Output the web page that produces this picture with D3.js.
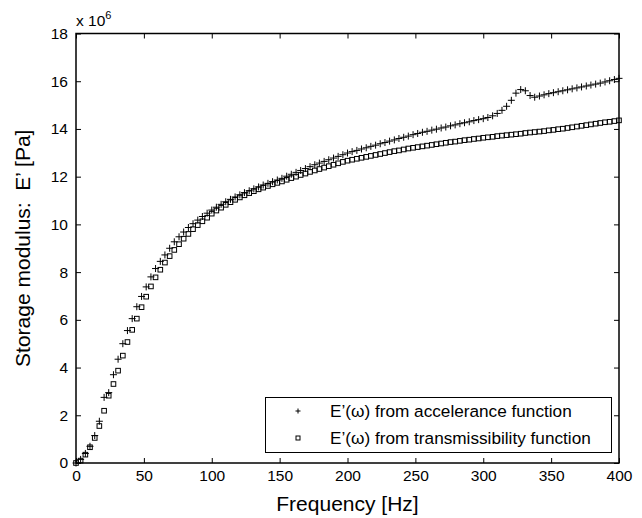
<!DOCTYPE html>
<html><head><meta charset="utf-8">
<script src="https://cdn.jsdelivr.net/npm/d3@7"></script>
<style>body{margin:0;background:#fff}svg{display:block}text{font-family:"Liberation Sans",Arial,Helvetica,sans-serif;fill:#000;white-space:pre}</style>
</head><body><svg id="c" width="642" height="518"></svg>
<script>
const freq = [0,3.4,6.9,10.3,13.8,17.2,20.7,24.1,27.6,31.0,34.5,37.9,41.4,44.8,48.3,51.7,55.2,58.6,62.1,65.5,69.0,72.4,75.9,79.3,82.8,86.2,89.7,93.1,96.6,
100.0,103.4,106.9,110.3,113.8,117.2,120.7,124.1,127.6,131.0,134.5,137.9,141.4,144.8,148.3,151.7,155.2,158.6,162.1,165.5,169.0,172.4,175.9,179.3,182.8,186.2,189.7,193.1,196.6,
200.0,203.4,206.9,210.3,213.8,217.2,220.7,224.1,227.6,231.0,234.5,237.9,241.4,244.8,248.3,251.7,255.2,258.6,262.1,265.5,269.0,272.4,275.9,279.3,282.8,286.2,289.7,293.1,296.6,
300.0,303.4,306.9,310.3,313.8,317.2,320.7,324.1,327.6,331.0,334.5,337.9,341.4,344.8,348.3,351.7,355.2,358.6,362.1,365.5,369.0,372.4,375.9,379.3,382.8,386.2,389.7,393.1,396.6,400.0];
// Storage modulus, units of 1e6 Pa
const accelerance = [0,0.15,0.4,0.7,1.15,1.75,2.75,2.95,3.7,4.35,5.0,5.55,6.05,6.55,6.98,7.38,7.8,8.15,8.45,8.72,9.0,9.27,9.48,9.68,9.87,10.03,10.18,10.33,10.47,
10.6,10.72,10.84,10.95,11.05,11.15,11.24,11.33,11.41,11.49,11.57,11.65,11.72,11.79,11.86,11.93,12.02,12.1,12.18,12.26,12.34,12.42,12.5,12.57,12.64,12.71,12.78,12.85,12.92,
12.99,13.05,13.1,13.16,13.21,13.27,13.32,13.38,13.43,13.49,13.54,13.6,13.65,13.7,13.76,13.81,13.86,13.9,13.95,13.99,14.04,14.08,14.13,14.17,14.22,14.26,14.3,14.35,14.39,
14.43,14.48,14.55,14.65,14.78,14.95,15.2,15.5,15.65,15.6,15.4,15.33,15.38,15.43,15.48,15.52,15.56,15.6,15.64,15.68,15.72,15.76,15.8,15.84,15.88,15.92,15.97,16.02,16.07,16.12];
const transmissibility = [0,0.1,0.35,0.66,1.05,1.55,2.19,2.82,3.31,3.87,4.5,5.07,5.58,6.05,6.53,6.97,7.4,7.78,8.1,8.4,8.67,8.93,9.17,9.4,9.6,9.8,9.97,10.13,10.28,
10.45,10.58,10.7,10.82,10.93,11.03,11.13,11.22,11.31,11.39,11.47,11.54,11.61,11.68,11.74,11.8,11.87,11.94,12.0,12.07,12.13,12.2,12.26,12.32,12.38,12.44,12.5,12.56,12.62,
12.67,12.71,12.75,12.79,12.83,12.87,12.91,12.95,12.99,13.03,13.07,13.1,13.14,13.18,13.21,13.24,13.27,13.3,13.33,13.36,13.39,13.42,13.45,13.47,13.5,13.53,13.55,13.58,13.6,
13.63,13.65,13.67,13.7,13.72,13.74,13.76,13.78,13.8,13.83,13.85,13.87,13.89,13.91,13.94,13.96,13.99,14.01,14.04,14.07,14.1,14.13,14.16,14.19,14.22,14.25,14.28,14.3,14.33,14.36];
const xTicks = [0,50,100,150,200,250,300,350,400];
const yTicks = [0,2,4,6,8,10,12,14,16,18];
const legendLabels = ["E\u2019(\u03c9) from accelerance function","E\u2019(\u03c9) from transmissibility function"];

const svg = d3.select("#c");
const L=76, R=619, T=33.5, B=463;
const x = d3.scaleLinear().domain([0,400]).range([L,R]);
const y = d3.scaleLinear().domain([0,18]).range([B,T]);
const tl=5;

// axes
svg.append("g").attr("transform",`translate(0,${B})`)
  .call(d3.axisBottom(x).tickValues(xTicks).tickSize(-tl).tickPadding(tl+2).tickSizeOuter(0));
svg.append("g").attr("transform",`translate(${L},0)`)
  .call(d3.axisLeft(y).tickValues(yTicks).tickSize(-tl).tickPadding(tl+3).tickSizeOuter(0));
svg.append("g").attr("transform",`translate(0,${T})`)
  .call(d3.axisTop(x).tickValues(xTicks).tickSize(-tl).tickFormat("").tickSizeOuter(0));
svg.append("g").attr("transform",`translate(${R},0)`)
  .call(d3.axisRight(y).tickValues(yTicks).tickSize(-tl).tickFormat("").tickSizeOuter(0));
svg.selectAll(".domain").remove();
svg.selectAll(".tick line").attr("stroke","#000").attr("stroke-width",1);
svg.selectAll(".tick text").attr("font-size",15.5).attr("font-family",'"Liberation Sans",Arial,sans-serif').attr("fill","#000");
svg.append("rect").attr("x",L).attr("y",T).attr("width",R-L).attr("height",B-T)
  .attr("fill","none").attr("stroke","#000").attr("stroke-width",1.5);

// exponent
const ex = svg.append("text").attr("x",L).attr("y",26).attr("font-size",15.5);
ex.append("tspan").text("x 10");
ex.append("tspan").attr("dy",-7).attr("font-size",11).text("6");

// labels
svg.append("text").attr("x",(L+R)/2).attr("y",511).attr("text-anchor","middle").attr("font-size",21).text("Frequency [Hz]");
svg.append("text").attr("transform",`translate(30,${(T+B)/2}) rotate(-90)`).attr("text-anchor","middle").attr("font-size",21).text("Storage modulus:  E\u2019 [Pa]");

const plus = (g,cx,cy,s)=>g.append("path").attr("d",`M${cx-s},${cy}H${cx+s}M${cx},${cy-s}V${cy+s}`).attr("stroke","#000").attr("stroke-width",1).attr("fill","none");
const sq = (g,cx,cy,s)=>g.append("rect").attr("x",cx-s).attr("y",cy-s).attr("width",2*s).attr("height",2*s).attr("stroke","#000").attr("stroke-width",1).attr("fill","none");

const data = freq.map((f,i)=>({f,a:accelerance[i],t:transmissibility[i]}));
const gA = svg.append("g");
data.forEach(d=>plus(gA,x(d.f),y(d.a),3.5));
const gT = svg.append("g");
data.forEach(d=>sq(gT,x(d.f),y(d.t),2.3));

// legend
const lg = svg.append("g");
lg.append("rect").attr("x",265.5).attr("y",397.5).attr("width",346).attr("height",55).attr("fill","#fff").attr("stroke","#000").attr("stroke-width",1);
plus(lg,298,411,2.5);
sq(lg,298,438,2);
lg.append("text").attr("x",330).attr("y",417).attr("font-size",17.2).text(legendLabels[0]);
lg.append("text").attr("x",330).attr("y",444).attr("font-size",17.2).text(legendLabels[1]);
</script></body></html>
